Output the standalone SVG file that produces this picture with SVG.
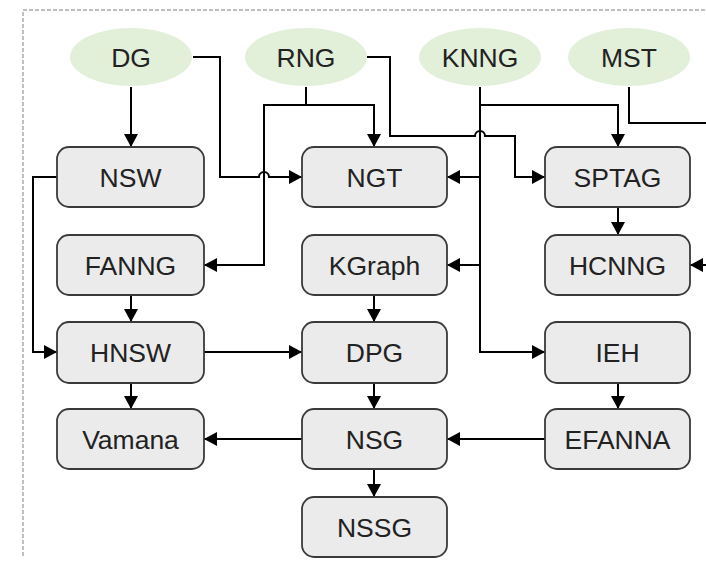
<svg xmlns="http://www.w3.org/2000/svg" width="706" height="566" viewBox="0 0 706 566">
  <style>
    .frame { fill: none; stroke: #aaaaaa; stroke-width: 1.5; stroke-dasharray: 4 2; }
    .src ellipse { fill: #e2efd9; stroke: none; }
    .box rect { fill: #ebebeb; stroke: #3a3a3a; stroke-width: 1.8; }
    text { font-family: "Liberation Sans", Arial, sans-serif; font-size: 26.5px; fill: #222; text-anchor: middle; }
    .edges path { fill: none; stroke: #000; stroke-width: 2; }
    .edges path.arr { marker-end: url(#head); }
  </style>
  <defs>
    <marker id="head" markerUnits="userSpaceOnUse" markerWidth="13" markerHeight="14" refX="13" refY="7" orient="auto">
      <path d="M0,0 L13,7 L0,14 z" fill="#000"/>
    </marker>
  </defs>

  <rect width="706" height="566" fill="#fff"/>
  <path class="frame" d="M23,556 V10 H706"/>

  <!-- source graphs -->
  <g id="DG" class="src"><ellipse cx="131" cy="57" rx="61" ry="29"/><text x="131" y="66.5">DG</text></g>
  <g id="RNG" class="src"><ellipse cx="306" cy="57" rx="61" ry="29"/><text x="306" y="66.5">RNG</text></g>
  <g id="KNNG" class="src"><ellipse cx="480" cy="57" rx="61" ry="29"/><text x="480" y="66.5">KNNG</text></g>
  <g id="MST" class="src"><ellipse cx="629" cy="57" rx="61" ry="29"/><text x="629" y="66.5">MST</text></g>

  <!-- connectors -->
  <g id="edges" class="edges">
    <path class="arr" d="M131,87 V147"/>
    <path class="arr" d="M193,57 H220 V177 H259 A5,5 0 0 1 269,177 H302"/>
    <path d="M306,87 V105"/>
    <path class="arr" d="M306,105 H374 V147"/>
    <path class="arr" d="M306,105 H264 V265 H204"/>
    <path class="arr" d="M367,57 H390 V136 H475 A5,5 0 0 1 485,136 H515 V177 H545"/>
    <path class="arr" d="M480,87 V352 H545"/>
    <path class="arr" d="M480,105 H618 V147"/>
    <path class="arr" d="M480,177 H447"/>
    <path class="arr" d="M480,265 H447"/>
    <path d="M629,87 V123 H706"/>
    <path class="arr" d="M706,265 H690"/>
    <path class="arr" d="M57,177 H33 V352 H57"/>
    <path class="arr" d="M131,295 V322"/>
    <path class="arr" d="M618,207 V235"/>
    <path class="arr" d="M374,295 V322"/>
    <path class="arr" d="M204,352 H302"/>
    <path class="arr" d="M131,383 V409"/>
    <path class="arr" d="M374,383 V409"/>
    <path class="arr" d="M618,383 V409"/>
    <path class="arr" d="M302,439 H204"/>
    <path class="arr" d="M545,439 H447"/>
    <path class="arr" d="M374,469 V497"/>
  </g>

  <!-- derived graphs -->
  <g id="NSW" class="box"><rect x="57" y="147" width="147" height="60" rx="12"/><text x="130.5" y="186.5">NSW</text></g>
  <g id="NGT" class="box"><rect x="302" y="147" width="145" height="60" rx="12"/><text x="374.5" y="186.5">NGT</text></g>
  <g id="SPTAG" class="box"><rect x="545" y="147" width="145" height="60" rx="12"/><text x="617.5" y="186.5">SPTAG</text></g>
  <g id="FANNG" class="box"><rect x="57" y="235" width="147" height="60" rx="12"/><text x="130.5" y="274.5">FANNG</text></g>
  <g id="KGraph" class="box"><rect x="302" y="235" width="145" height="60" rx="12"/><text x="374.5" y="274.5">KGraph</text></g>
  <g id="HCNNG" class="box"><rect x="545" y="235" width="145" height="60" rx="12"/><text x="617.5" y="274.5">HCNNG</text></g>
  <g id="HNSW" class="box"><rect x="57" y="322" width="147" height="61" rx="12"/><text x="130.5" y="361.5">HNSW</text></g>
  <g id="DPG" class="box"><rect x="302" y="322" width="145" height="61" rx="12"/><text x="374.5" y="361.5">DPG</text></g>
  <g id="IEH" class="box"><rect x="545" y="322" width="145" height="61" rx="12"/><text x="617.5" y="361.5">IEH</text></g>
  <g id="Vamana" class="box"><rect x="57" y="409" width="147" height="60" rx="12"/><text x="130.5" y="448.5">Vamana</text></g>
  <g id="NSG" class="box"><rect x="302" y="409" width="145" height="60" rx="12"/><text x="374.5" y="448.5">NSG</text></g>
  <g id="EFANNA" class="box"><rect x="545" y="409" width="145" height="60" rx="12"/><text x="617.5" y="448.5">EFANNA</text></g>
  <g id="NSSG" class="box"><rect x="302" y="497" width="145" height="60" rx="12"/><text x="374.5" y="536.5">NSSG</text></g>
</svg>
